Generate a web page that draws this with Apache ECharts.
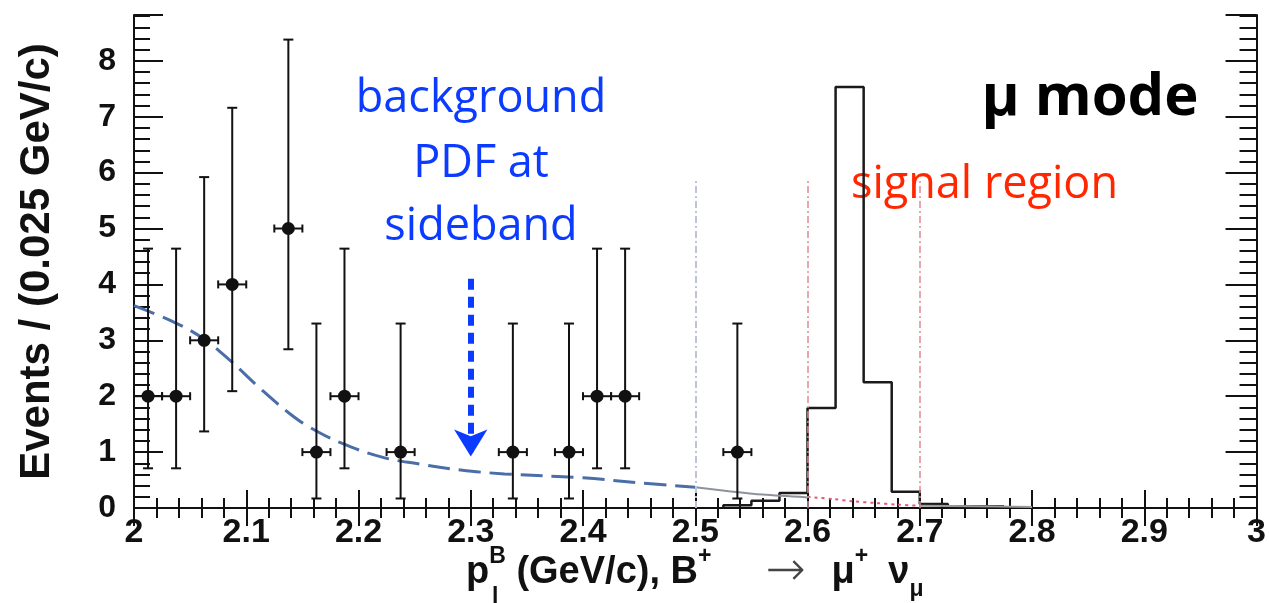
<!DOCTYPE html>
<html>
<head>
<meta charset="utf-8">
<script src="https://cdn.jsdelivr.net/npm/echarts@6/dist/echarts.min.js"></script>
<style>
  html, body { margin: 0; padding: 0; background: #fff; }
  #chart { width: 1269px; height: 603px; }
</style>
</head>
<body>
<div id="chart"></div>
<script>
// Sideband data: bin centres (GeV/c), event counts, 68% Poisson interval bounds
const binCenters = [2.0125, 2.0375, 2.0625, 2.0875, 2.1375, 2.1625, 2.1875, 2.2375, 2.3375, 2.3875, 2.4125, 2.4375, 2.5375];
const counts     = [2, 2, 3, 4, 5, 1, 2, 1, 1, 1, 2, 2, 1];
const errLow     = [0.71, 0.71, 1.37, 2.09, 2.84, 0.17, 0.71, 0.17, 0.17, 0.17, 0.71, 0.71, 0.17];
const errHigh    = [4.64, 4.64, 5.92, 7.16, 8.38, 3.30, 4.64, 3.30, 3.30, 3.30, 4.64, 4.64, 3.30];
const binHalfWidth = 0.0125;

// Signal MC histogram (bin edges and contents)
const sigEdges  = [2.525, 2.55, 2.575, 2.6, 2.625, 2.65, 2.675, 2.7, 2.725, 2.75, 2.775];
const sigCounts = [0.05, 0.13, 0.27, 1.79, 7.53, 2.25, 0.29, 0.07, 0.03, 0.03, 0.03];

// Background PDF fitted in the sideband
const pdfX = [2.0, 2.035, 2.061, 2.085, 2.114, 2.138, 2.156, 2.185, 2.221, 2.253, 2.291, 2.33, 2.4, 2.45, 2.5];
const pdfY = [3.62, 3.33, 3.04, 2.65, 2.11, 1.70, 1.45, 1.16, 0.91, 0.79, 0.68, 0.61, 0.54, 0.45, 0.37];
// Same PDF extrapolated beyond the sideband
const pdfExtX = [2.5, 2.53, 2.56, 2.6];
const pdfExtY = [0.37, 0.30, 0.24, 0.19];
// PDF inside the signal region
const pdfSigX = [2.6, 2.623, 2.64, 2.66, 2.68, 2.7];
const pdfSigY = [0.20, 0.16, 0.12, 0.09, 0.06, 0.04];
// Tail above the signal region
const pdfTailX = [2.7, 2.75, 2.8];
const pdfTailY = [0.04, 0.03, 0.02];

// Region boundaries
const sidebandEdge = 2.5;
const signalRegion = [2.6, 2.7];
const boundaryTop = 5.9;
// Arrow pointing at the background PDF
const arrowX = 2.3;
const arrowFrom = 4.1;
const arrowTo = 0.92;

// Axis ranges and tick labels
const xRange = [2, 3];
const yRange = [0, 8.82];
const xTickLabels = ['2', '2.1', '2.2', '2.3', '2.4', '2.5', '2.6', '2.7', '2.8', '2.9', '3'];
const yTickLabels = ['0', '1', '2', '3', '4', '5', '6', '7', '8'];

const histPoints = [];
sigCounts.forEach((v, i) => {
  if (i === 0) histPoints.push([sigEdges[0], 0]);
  histPoints.push([sigEdges[i], v]);
  histPoints.push([sigEdges[i + 1], v]);
});
histPoints.push([sigEdges[sigEdges.length - 1], 0]);

const zip = (xs, ys) => xs.map((x, i) => [x, ys[i]]);

const INK = '#111';
const tickFont = { fontFamily: 'Liberation Sans', fontWeight: 'bold', color: INK };

function makeX(position, major, labels, interval, len) {
  return {
    type: 'value', min: xRange[0], max: xRange[1], interval: interval, position: position,
    axisLine: { show: major, lineStyle: { color: INK, width: 2 } },
    axisTick: { show: true, inside: true, length: len, lineStyle: { color: INK, width: 2 } },
    splitLine: { show: false },
    axisLabel: labels ? Object.assign({
      show: true, fontSize: 34, margin: 8,
      formatter: v => xTickLabels[Math.round((v - xRange[0]) * 10)] || ''
    }, tickFont) : { show: false }
  };
}
function makeY(position, major, labels, interval, len) {
  return {
    type: 'value', min: yRange[0], max: yRange[1], interval: interval, position: position,
    axisLine: { show: major, lineStyle: { color: INK, width: 2 } },
    axisTick: { show: true, inside: true, length: len, lineStyle: { color: INK, width: 2 } },
    splitLine: { show: false },
    name: labels ? 'Events / (0.025 GeV/c)' : '',
    nameLocation: 'middle', nameGap: 76,
    nameTextStyle: { fontFamily: 'Liberation Sans', fontWeight: 'bold', fontSize: 42, color: INK },
    axisLabel: labels ? Object.assign({
      show: true, fontSize: 32, margin: 18,
      formatter: v => (Math.abs(v - Math.round(v)) < 1e-6 ? (yTickLabels[Math.round(v)] || '') : '')
    }, tickFont) : { show: false }
  };
}

const chart = echarts.init(document.getElementById('chart'), null, { renderer: 'canvas' });

chart.setOption({
  backgroundColor: '#fff',
  animation: false,
  grid: { left: 134, right: 6, top: 15, bottom: 95, containLabel: false },
  xAxis: [
    makeX('bottom', true, true, 0.1, 18),
    makeX('bottom', false, false, 0.02, 10),
    makeX('top', true, false, 0.1, 18),
    makeX('top', false, false, 0.02, 10)
  ],
  yAxis: [
    makeY('left', true, true, 1, 29),
    makeY('left', false, false, 0.2, 16),
    makeY('right', true, false, 1, 31),
    makeY('right', false, false, 0.2, 17)
  ],
  series: [
    {
      name: 'signal MC', type: 'line', data: histPoints, showSymbol: false, symbol: 'none',
      lineStyle: { color: '#1a1a1a', width: 2.5 }, z: 3,
      markLine: {
        silent: true, symbol: 'none', label: { show: false },
        data: [
          [{ coord: [sidebandEdge, 0], lineStyle: { color: '#bcc3da', width: 2, type: [7, 3, 2, 3] } },
           { coord: [sidebandEdge, boundaryTop] }],
          [{ coord: [signalRegion[0], 0], lineStyle: { color: '#e08a98', width: 1.5, type: [7, 3, 2, 3] } },
           { coord: [signalRegion[0], boundaryTop] }],
          [{ coord: [signalRegion[1], 0], lineStyle: { color: '#e08a98', width: 1.5, type: [7, 3, 2, 3] } },
           { coord: [signalRegion[1], boundaryTop] }]
        ]
      }
    },
    {
      name: 'background PDF', type: 'line', data: zip(pdfX, pdfY), smooth: 0.4, showSymbol: false,
      lineStyle: { color: '#4a6ea8', width: 3, type: [22, 9] }, z: 4
    },
    {
      name: 'background PDF (extrapolated)', type: 'line', data: zip(pdfExtX, pdfExtY), smooth: 0.3, showSymbol: false,
      lineStyle: { color: '#8d929c', width: 2 }, z: 4
    },
    {
      name: 'PDF in signal region', type: 'line', data: zip(pdfSigX, pdfSigY), smooth: 0.3, showSymbol: false,
      lineStyle: { color: '#e05a78', width: 2, type: [3, 4] }, z: 4
    },
    {
      name: 'PDF tail', type: 'line', data: zip(pdfTailX, pdfTailY), smooth: 0.3, showSymbol: false,
      lineStyle: { color: '#9a9a9a', width: 2 }, z: 4
    },
    {
      name: 'data', type: 'custom', z: 6,
      data: binCenters.map((x, i) => [x, counts[i], errLow[i], errHigh[i]]),
      renderItem: function (params, api) {
        const x = api.value(0), y = api.value(1), lo = api.value(2), hi = api.value(3);
        const c = api.coord([x, y]);
        const pLo = api.coord([x, lo]);
        const pHi = api.coord([x, hi]);
        const pL = api.coord([x - binHalfWidth, y]);
        const pR = api.coord([x + binHalfWidth, y]);
        const st = { stroke: INK, lineWidth: 2 };
        const seg = (x1, y1, x2, y2) => ({ type: 'line', shape: { x1, y1, x2, y2 }, style: st });
        return {
          type: 'group',
          children: [
            seg(c[0], pLo[1], c[0], pHi[1]),
            seg(c[0] - 5, pHi[1], c[0] + 5, pHi[1]),
            seg(c[0] - 5, pLo[1], c[0] + 5, pLo[1]),
            seg(pL[0], c[1], pR[0], c[1]),
            seg(pL[0], c[1] - 4, pL[0], c[1] + 4),
            seg(pR[0], c[1] - 4, pR[0], c[1] + 4),
            { type: 'circle', shape: { cx: c[0], cy: c[1], r: 6.5 }, style: { fill: INK } }
          ]
        };
      }
    },
    {
      name: 'arrow', type: 'line', data: [], z: 7,
      markLine: {
        silent: true, symbol: ['none', 'arrow'], symbolSize: [25, 27], label: { show: false },
        lineStyle: { color: '#0a3bff', width: 6, type: [11, 7] },
        data: [[{ coord: [arrowX, arrowFrom] }, { coord: [arrowX, arrowTo] }]]
      }
    }
  ],
  graphic: [
    { type: 'text', x: 481, y: 99, style: { text: 'background', fontFamily: 'Open Sans', fontSize: 45, fill: '#0a3bff', align: 'center', verticalAlign: 'middle' } },
    { type: 'text', x: 481, y: 164, style: { text: 'PDF at', fontFamily: 'Open Sans', fontSize: 45, fill: '#0a3bff', align: 'center', verticalAlign: 'middle' } },
    { type: 'text', x: 481, y: 227, style: { text: 'sideband', fontFamily: 'Open Sans', fontSize: 45, fill: '#0a3bff', align: 'center', verticalAlign: 'middle' } },
    { type: 'text', x: 1090, y: 98, style: { text: 'μ mode', fontFamily: 'Open Sans', fontWeight: 'bold', fontSize: 58, fill: '#000', align: 'center', verticalAlign: 'middle' } },
    { type: 'text', x: 851, y: 185, style: { text: 'signal region', fontFamily: 'Open Sans', fontSize: 45, fill: '#ff2600', align: 'left', verticalAlign: 'middle' } },
    {
      type: 'text', x: 466, y: 573,
      style: {
        text: '{m|p}{sp|B}{m| (GeV/c), B}{sp|+}{ar|→}{m|μ}{sp|+}{nu|ν}{sb|μ}',
        align: 'left', verticalAlign: 'middle',
        rich: {
          m:  { fontFamily: 'Liberation Sans', fontWeight: 'bold', fontSize: 38, fill: INK, lineHeight: 56, verticalAlign: 'middle' },
          nu: { fontFamily: 'Liberation Sans', fontWeight: 'bold', fontSize: 38, fill: INK, lineHeight: 56, verticalAlign: 'middle', padding: [0, 0, 0, 20] },
          sp: { fontFamily: 'Liberation Sans', fontWeight: 'bold', fontSize: 23, fill: INK, lineHeight: 56, verticalAlign: 'top' },
          sb: { fontFamily: 'Liberation Sans', fontWeight: 'bold', fontSize: 23, fill: INK, lineHeight: 56, verticalAlign: 'bottom' },
          ar: { fontFamily: 'DejaVu Sans', fontWeight: 200, fontSize: 48, fill: '#444', lineHeight: 56, verticalAlign: 'middle', padding: [0, 26, 0, 54] }
        }
      }
    },
    { type: 'text', x: 492, y: 598, style: { text: 'l', fontFamily: 'Liberation Sans', fontWeight: 'bold', fontSize: 23, fill: INK, align: 'left', verticalAlign: 'middle' } }
  ]
});
</script>
</body>
</html>
